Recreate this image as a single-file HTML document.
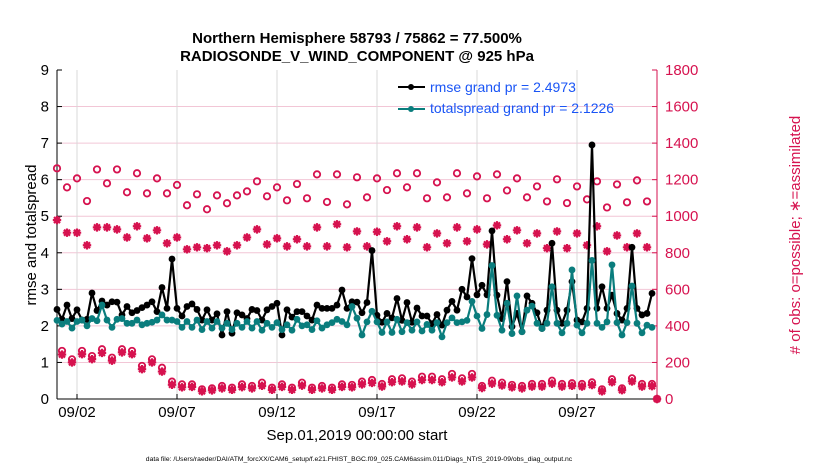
<!DOCTYPE html>
<html><head><meta charset="utf-8"><style>
html,body{margin:0;padding:0;background:#fff;}
svg{display:block;font-family:"Liberation Sans",sans-serif;}
</style></head><body>
<svg id="chart" width="830" height="470" viewBox="0 0 830 470" xmlns="http://www.w3.org/2000/svg">
<text x="357" y="43" text-anchor="middle" font-size="15" font-weight="bold">Northern Hemisphere 58793 / 75862 = 77.500%</text>
<text x="357" y="61" text-anchor="middle" font-size="15" font-weight="bold">RADIOSONDE_V_WIND_COMPONENT @ 925 hPa</text>
<g id="grid"></g>
<g id="axes"></g>
<g id="marks"></g>
<text transform="translate(36,235) rotate(-90)" text-anchor="middle" font-size="15">rmse and totalspread</text>
<text transform="translate(800,235) rotate(-90)" text-anchor="middle" font-size="15" fill="#d6124f"># of obs: o=possible; ∗=assimilated</text>
<text x="357" y="440" text-anchor="middle" font-size="15">Sep.01,2019 00:00:00 start</text>
<text x="359" y="461" text-anchor="middle" font-size="6.8">data file: /Users/raeder/DAI/ATM_forcXX/CAM6_setup/f.e21.FHIST_BGC.f09_025.CAM6assim.011/Diags_NTrS_2019-09/obs_diag_output.nc</text>
<g>
<line x1="398" y1="87" x2="425" y2="87" stroke="#000" stroke-width="2"/>
<circle cx="411" cy="87" r="3" fill="#000"/>
<text x="430" y="92" font-size="14" fill="#1a55f5">rmse grand pr = 2.4973</text>
<line x1="398" y1="109" x2="425" y2="109" stroke="#0a7d7d" stroke-width="2"/>
<circle cx="411" cy="109" r="3" fill="#0a7d7d"/>
<text x="430" y="113" font-size="14" fill="#1a55f5">totalspread grand pr = 2.1226</text>
</g>
</svg>
<script>
const rmse = [2.45,2.18,2.57,2.2,2.44,2.16,2.18,2.9,2.42,2.68,2.57,2.66,2.65,2.3,2.53,2.36,2.42,2.5,2.57,2.66,2.39,3.05,2.48,3.83,2.48,2.27,2.53,2.6,2.45,2.16,2.44,
2.16,2.33,1.75,2.39,1.8,2.36,2.3,2.2,2.45,2.42,2.16,2.44,2.53,2.62,1.75,2.44,2.24,2.39,2.39,2.27,2.16,2.57,2.48,2.48,2.48,2.57,2.98,2.48,2.66,2.65,
2.36,2.64,4.06,2.29,2.1,2.34,2.22,2.75,2.15,2.64,2.1,2.49,2.27,2.27,2.06,2.31,2.02,2.43,2.67,2.43,3.0,2.79,3.84,2.85,3.11,2.85,4.6,2.84,2.2,
3.21,1.98,2.34,1.84,2.82,2.62,2.36,1.93,2.43,4.26,2.43,2.07,2.43,3.21,2.16,2.11,2.48,6.95,2.48,3.07,2.48,2.84,2.34,2.16,2.48,4.15,2.48,2.3,2.34,2.89];
const spread = [2.15,2.05,2.12,1.94,2.12,2.16,2.0,2.2,2.14,2.57,2.16,1.96,2.18,2.2,2.07,2.07,2.16,2.03,2.07,2.1,2.16,2.3,2.16,2.16,2.12,1.96,2.12,1.96,2.16,1.9,2.12,
1.94,2.12,1.94,2.07,1.9,2.07,1.96,2.12,1.94,2.12,1.88,2.07,1.96,2.09,1.9,2.03,1.88,2.18,2.0,2.03,1.9,2.14,1.94,2.03,2.09,2.18,2.12,2.03,2.53,2.21,
1.75,2.11,2.4,2.11,1.82,2.11,1.82,2.18,1.84,2.09,1.88,2.11,1.86,2.04,1.88,2.09,1.7,2.09,2.22,2.09,2.11,2.15,2.67,2.27,1.93,2.31,3.65,2.29,1.88,
2.62,1.79,2.82,1.84,2.43,2.54,2.07,1.93,2.07,3.07,2.07,1.81,2.07,3.53,2.02,1.81,2.07,3.79,2.07,1.96,2.11,3.67,2.09,1.75,2.09,3.09,2.07,1.81,2.02,1.96];
const possibleUpper = [1262,1158,1207,1083,1256,1180,1256,1131,1235,1125,1207,1125,1171,1060,1120,1038,1114,1071,1114,1136,1191,1109,1158,1087,1176,1098,1229,1078,1229,1065,1213,
1103,1207,1143,1235,1158,1235,1098,1185,1103,1235,1125,1218,1098,1229,1141,1207,1103,1163,1081,1202,1072,1163,1092,1191,1048,1174,1076,1196,1081,0];
const assimUpper = [979,910,910,841,939,939,928,884,945,879,923,852,884,819,830,825,841,808,841,884,928,846,879,835,874,835,939,835,956,830,917,
835,915,863,945,874,939,830,906,852,939,863,928,846,950,874,923,852,906,825,917,825,906,841,945,808,895,830,906,830,0];
const possibleLower = [263,217,263,235,272,226,272,263,181,217,171,95,80,80,53,58,71,62,80,71,89,62,80,62,89,62,71,62,80,77,
95,104,82,108,113,95,122,122,108,137,113,137,71,100,89,77,71,82,82,100,82,86,82,91,53,108,58,113,82,82];
const assimLower = [243,200,245,218,252,210,255,245,163,200,150,78,64,66,42,47,58,50,65,58,72,50,66,50,73,50,58,50,66,64,
80,88,68,92,96,80,104,104,92,118,96,118,60,84,74,64,58,68,68,84,68,72,68,76,42,92,48,96,68,70];
const leftTicks = [0,1,2,3,4,5,6,7,8,9];
const rightTicks = [0,200,400,600,800,1000,1200,1400,1600,1800];
const xTickDays = [1,6,11,16,21,26];
const xTickLabels = ["09/02","09/07","09/12","09/17","09/22","09/27"];

const NS="http://www.w3.org/2000/svg";
const X0=57,X1=657,Y0=399,Y1=70;
const xScale = d => X0 + d*(X1-X0)/30;
const yL = v => Y0 - v*(Y0-Y1)/9;
const yR = v => Y0 - v*(Y0-Y1)/1800;
function mk(tag, attrs, parent){const e=document.createElementNS(NS,tag);for(const k in attrs)e.setAttribute(k,attrs[k]);parent.appendChild(e);return e;}
const grid=document.getElementById('grid'), axes=document.getElementById('axes'), marks=document.getElementById('marks');

leftTicks.forEach(t=>{
  if(t>0&&t<9){const g=mk('line',{x1:X0,x2:X1,y1:yL(t),y2:yL(t),stroke:'#f2c6d6','stroke-width':1},grid);
  
  }
  const tk=mk('line',{x1:X0,x2:X0+5,y1:yL(t),y2:yL(t),stroke:'#000'},axes);
  
  
  const tx=mk('text',{x:X0-8,y:yL(t)+5,'text-anchor':'end','font-size':15},axes);
  tx.textContent=t;
  
  
});
rightTicks.forEach(t=>{
  const tk=mk('line',{x1:X1-5,x2:X1,y1:yR(t),y2:yR(t),stroke:'#d6124f'},axes);
  
  
  const tx=mk('text',{x:X1+8,y:yR(t)+5,'font-size':15,fill:'#d6124f'},axes);
  tx.textContent=t;
  
  
});
xTickDays.forEach((d,i)=>{
  const g=mk('line',{x1:xScale(d),x2:xScale(d),y1:Y1,y2:Y0,stroke:'#d8d8d8'},grid);
  
  
  const tk=mk('line',{x1:xScale(d),x2:xScale(d),y1:Y0,y2:Y0-5,stroke:'#000'},axes);
  
  
  const tx=mk('text',{x:xScale(d),y:417,'text-anchor':'middle','font-size':15},axes);
  tx.textContent=xTickLabels[i];
  
  
});
const la=mk('line',{x1:X0,x2:X0,y1:Y1,y2:Y0,stroke:'#000'},axes);


const ra=mk('line',{x1:X1,x2:X1,y1:Y1,y2:Y0,stroke:'#d6124f'},axes);


const ba=mk('line',{x1:X0,x2:X1,y1:Y0,y2:Y0,stroke:'#000'},axes);



function circ(vals,offset,name){
  vals.forEach((v,i)=>{const c=mk('circle',{cx:xScale(offset+i*0.5),cy:yR(v),r:3.2,fill:'none',stroke:'#d6124f','stroke-width':1.8},marks);
  
  });
}
function star(vals,offset,name){
  vals.forEach((v,i)=>{const x=xScale(offset+i*0.5),y=yR(v),r=4.2,q=3;
  const d=`M${x-r},${y}H${x+r}M${x},${y-r}V${y+r}M${x-q},${y-q}L${x+q},${y+q}M${x-q},${y+q}L${x+q},${y-q}`;
  const p=mk('path',{d:d,stroke:'#d6124f','stroke-width':2.2,fill:'none'},marks);
  
  });
}
star(assimUpper,0,'obs-assimilated-marker');
circ(possibleUpper,0,'obs-possible-marker');
star(assimLower,0.25,'obs-assimilated-marker-level2');
circ(possibleLower,0.25,'obs-possible-marker-level2');

function series(vals,color,name){
  const pts=vals.map((v,i)=>xScale(i*0.25)+','+yL(v)).join(' ');
  const pl=mk('polyline',{points:pts,fill:'none',stroke:color,'stroke-width':2.2,'stroke-linejoin':'round'},marks);
  
  
  vals.forEach((v,i)=>{const c=mk('circle',{cx:xScale(i*0.25),cy:yL(v),r:3.4,fill:color},marks);
  
  });
}
series(rmse,'#000','rmse');
series(spread,'#0a7d7d','totalspread');
</script>
</body></html>
